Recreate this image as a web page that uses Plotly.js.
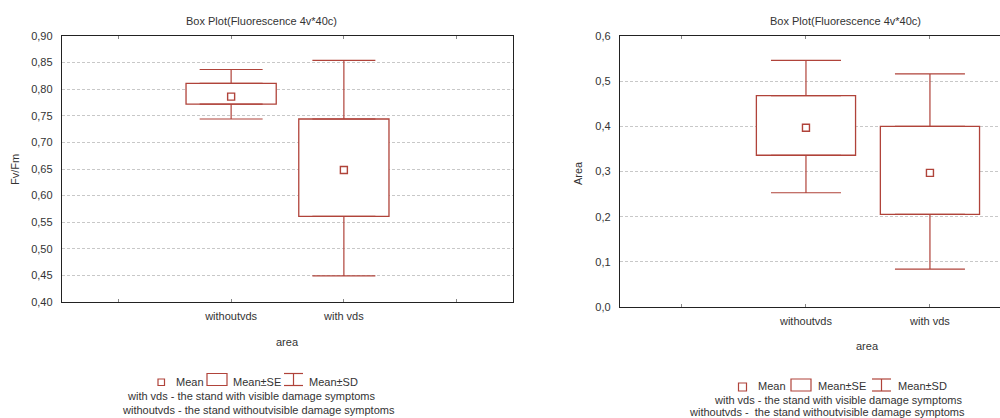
<!DOCTYPE html>
<html>
<head>
<meta charset="utf-8">
<script src="https://cdn.plot.ly/plotly-3.0.1.min.js"></script>
<style>html,body{margin:0;padding:0;background:#fff;}#chart{width:1000px;height:418px;}</style>
</head>
<body>
<div id="chart"></div>
<script>
// ---- data ----
const categories = ["withoutvds", "with vds"];

// Left panel: Fv/Fm
const fvMean   = [0.786, 0.648];
const fvSeLow  = [0.772, 0.561];
const fvSeHigh = [0.811, 0.744];
const fvSdLow  = [0.744, 0.449];
const fvSdHigh = [0.837, 0.854];

// Right panel: Area
const arMean   = [0.397, 0.297];
const arSeLow  = [0.336, 0.205];
const arSeHigh = [0.468, 0.400];
const arSdLow  = [0.253, 0.084];
const arSdHigh = [0.546, 0.516];

const legendLabels = ["Mean", "Mean\u00b1SE", "Mean\u00b1SD"];
const noteWith = "with vds - the stand with visible damage symptoms";
const noteWithout = "withoutvds - the stand withoutvisible damage symptoms";
const noteWithoutRight = "withoutvds -  the stand withoutvisible damage symptoms";

// ---- styling ----
const RED = "#b0433a";
const TXT = "#333333";
const FONT = "Liberation Sans, Arial, sans-serif";
const W = 1000, H = 418;
const px = x => x / W;
const py = y => 1 - y / H;

function panelTraces(mean, seLow, seHigh, sdLow, sdHigh, xa, ya, capW) {
  const seSpan = seHigh.map((v, i) => v - seLow[i]);
  return [
    {type: "bar", x: categories, y: seSpan, base: seLow, width: 0.8,
     marker: {color: "#ffffff", line: {color: RED, width: 1.3}},
     xaxis: xa, yaxis: ya, showlegend: false, hoverinfo: "skip"},
    {type: "scatter", mode: "markers", x: categories, y: seHigh,
     marker: {size: 1, opacity: 0},
     error_y: {type: "data", symmetric: false,
               array: sdHigh.map((v, i) => v - seHigh[i]),
               arrayminus: seHigh.map(() => 0),
               color: RED, thickness: 1.2, width: capW},
     xaxis: xa, yaxis: ya, showlegend: false, hoverinfo: "skip"},
    {type: "scatter", mode: "markers", x: categories, y: seLow,
     marker: {size: 1, opacity: 0},
     error_y: {type: "data", symmetric: false,
               array: seLow.map(() => 0),
               arrayminus: seLow.map((v, i) => v - sdLow[i]),
               color: RED, thickness: 1.2, width: capW},
     xaxis: xa, yaxis: ya, showlegend: false, hoverinfo: "skip"},
    {type: "scatter", mode: "markers", x: categories, y: mean,
     marker: {symbol: "square-open", size: 7, color: RED, line: {width: 1.4, color: RED}},
     xaxis: xa, yaxis: ya, showlegend: false, hoverinfo: "skip"}
  ];
}

const data = [].concat(
  panelTraces(fvMean, fvSeLow, fvSeHigh, fvSdLow, fvSdHigh, "x", "y", 31.5),
  panelTraces(arMean, arSeLow, arSeHigh, arSdLow, arSdHigh, "x2", "y2", 35)
);

const tickFont = {family: FONT, size: 11, color: TXT};

const xCommon = {
  type: "category", categoryorder: "array", categoryarray: categories,
  tickmode: "array", tickvals: [-1, 0, 1, 2], ticktext: ["", categories[0], categories[1], ""],
  ticks: "inside", ticklen: 3, tickcolor: "#888", tickwidth: 1,
  showline: true, linecolor: "#222", linewidth: 1.2, ticklabelstandoff: 4,
  showgrid: false, zeroline: false, tickfont: tickFont, fixedrange: true
};
const yCommon = {
  showline: true, linecolor: "#222", linewidth: 1.2, ticks: "",
  showgrid: true, gridcolor: "#c8c8c8", griddash: "3px,2px", gridwidth: 1,
  zeroline: false, tickfont: tickFont, ticklabelstandoff: 6, fixedrange: true
};

function ann(text, x, y, opts) {
  return Object.assign({text: text, xref: "paper", yref: "paper", x: px(x), y: py(y),
    xanchor: "center", yanchor: "middle", showarrow: false,
    font: {family: FONT, size: 11, color: TXT}}, opts || {});
}

function legendShapes(sq, box, wh, yTop, yBot) {
  const line = {color: RED, width: 1.2};
  return [
    {type: "rect", xref: "paper", yref: "paper", x0: px(sq[0]), x1: px(sq[1]),
     y0: py(sq[3]), y1: py(sq[2]), line: line, fillcolor: "rgba(0,0,0,0)"},
    {type: "rect", xref: "paper", yref: "paper", x0: px(box[0]), x1: px(box[1]),
     y0: py(yBot), y1: py(yTop), line: line, fillcolor: "rgba(0,0,0,0)"},
    {type: "line", xref: "paper", yref: "paper", x0: px(wh[0]), x1: px(wh[1]),
     y0: py(yTop), y1: py(yTop), line: line},
    {type: "line", xref: "paper", yref: "paper", x0: px(wh[0]), x1: px(wh[1]),
     y0: py(yBot), y1: py(yBot), line: line},
    {type: "line", xref: "paper", yref: "paper", x0: px((wh[0] + wh[1]) / 2), x1: px((wh[0] + wh[1]) / 2),
     y0: py(yBot), y1: py(yTop), line: line}
  ];
}

const layout = {
  width: W, height: H,
  margin: {l: 0, r: 0, t: 0, b: 0},
  paper_bgcolor: "#ffffff", plot_bgcolor: "#ffffff",
  separators: ",.",
  showlegend: false,
  bargap: 0.2,
  xaxis: Object.assign({}, xCommon, {domain: [px(62), px(513)], range: [-1.5, 2.5], mirror: "allticks", anchor: "y"}),
  yaxis: Object.assign({}, yCommon, {domain: [py(302), py(36)], range: [0.40, 0.90], dtick: 0.05,
    tickformat: ".2f", mirror: true, anchor: "x"}),
  xaxis2: Object.assign({}, xCommon, {domain: [px(620), 1], range: [-1.5, 1.565], mirror: "allticks", anchor: "y2"}),
  yaxis2: Object.assign({}, yCommon, {domain: [py(307), py(36)], range: [0, 0.6], dtick: 0.1,
    tickformat: ".1f", mirror: false, anchor: "x2"}),
  annotations: [
    ann("Box Plot(Fluorescence 4v*40c)", 261, 21),
    ann("Box Plot(Fluorescence 4v*40c)", 845, 21),
    ann("Fv/Fm", 15, 170, {textangle: -90}),
    ann("Area", 578, 173, {textangle: -90}),
    ann("area", 287, 342),
    ann("area", 867, 346),
    // left legend
    ann(legendLabels[0], 174, 382, {xanchor: "left"}),
    ann(legendLabels[1], 231, 382, {xanchor: "left"}),
    ann(legendLabels[2], 307, 382, {xanchor: "left"}),
    ann(noteWith, 251, 396),
    ann(noteWithout, 258, 410),
    // right legend
    ann(legendLabels[0], 756, 386, {xanchor: "left"}),
    ann(legendLabels[1], 816, 386, {xanchor: "left"}),
    ann(legendLabels[2], 896, 386, {xanchor: "left"}),
    ann(noteWith, 838, 400),
    ann(noteWithoutRight, 687, 411.5, {xanchor: "left"})
  ],
  shapes: [].concat(
    legendShapes([158, 164.5, 379, 385.5], [207, 227], [284, 303], 373.5, 385.5),
    legendShapes([738.5, 746.5, 383, 391], [791, 811], [872, 891], 379, 391)
  )
};

Plotly.newPlot("chart", data, layout, {displayModeBar: false, staticPlot: true});
</script>
</body>
</html>
